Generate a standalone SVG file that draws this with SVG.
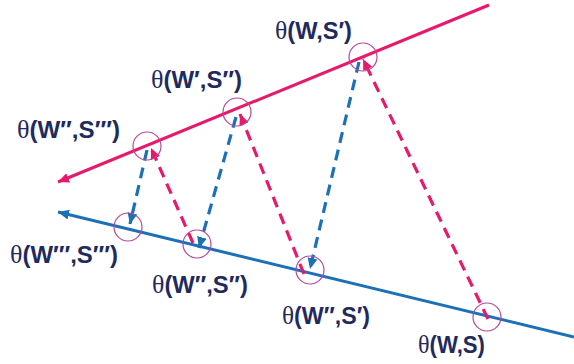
<svg xmlns="http://www.w3.org/2000/svg" width="574" height="364" viewBox="0 0 574 364">
<style>
.pk{stroke:#E8196A;stroke-width:3;fill:none}
.bl{stroke:#1C70B8;stroke-width:3;fill:none}
.dash{stroke-width:3.2;stroke-dasharray:11 7}
.ring{fill:none;stroke:#B5479E;stroke-width:1.2}
.lbl{font-family:"Liberation Sans",Arial,sans-serif;font-weight:bold;font-size:23px;fill:#1F2A5E}
.th{font-family:"Liberation Serif","DejaVu Serif",serif;font-weight:normal;font-size:25px}
</style>
<defs>
<marker id="ap" markerUnits="userSpaceOnUse" markerWidth="12" markerHeight="12" viewBox="0 0 12 12" refX="11" refY="6" orient="auto"><path d="M0,1 L11,6 L0,11 Z" fill="#E8196A"/></marker>
<marker id="ab" markerUnits="userSpaceOnUse" markerWidth="12" markerHeight="12" viewBox="0 0 12 12" refX="11" refY="6" orient="auto"><path d="M0,1 L11,6 L0,11 Z" fill="#1C70B8"/></marker>
</defs>
<g id="axes">
<line id="upper" class="pk" x1="489" y1="5" x2="58" y2="182" marker-end="url(#ap)"/>
<line id="lower" class="bl" x1="574" y1="337" x2="58" y2="212" marker-end="url(#ab)"/>
</g>
<g id="connectors">
<line class="pk dash" x1="488" y1="319" x2="363" y2="59" marker-end="url(#ap)"/>
<line class="bl dash" x1="359" y1="62" x2="310" y2="269" marker-end="url(#ab)"/>
<line class="pk dash" x1="304" y1="274" x2="240" y2="114" marker-end="url(#ap)"/>
<line class="bl dash" x1="236" y1="117" x2="199" y2="248" marker-end="url(#ab)"/>
<line class="pk dash" x1="193" y1="243" x2="151" y2="148" marker-end="url(#ap)"/>
<line class="bl dash" x1="147" y1="150" x2="130" y2="224" marker-end="url(#ab)"/>
</g>
<g id="n1"><circle class="ring" cx="363" cy="57" r="14"/><text class="lbl" x="275" y="39" textLength="77" lengthAdjust="spacingAndGlyphs"><tspan class="th">θ</tspan>(W,S′)</text></g>
<g id="n2"><circle class="ring" cx="237" cy="112" r="14"/><text class="lbl" x="151" y="88" textLength="91" lengthAdjust="spacingAndGlyphs"><tspan class="th">θ</tspan>(W′,S′′)</text></g>
<g id="n3"><circle class="ring" cx="147" cy="146" r="14"/><text class="lbl" x="17" y="138" textLength="103" lengthAdjust="spacingAndGlyphs"><tspan class="th">θ</tspan>(W′′,S′′′)</text></g>
<g id="n4"><circle class="ring" cx="128" cy="227" r="14"/><text class="lbl" x="10" y="263" textLength="108" lengthAdjust="spacingAndGlyphs"><tspan class="th">θ</tspan>(W′′′,S′′′)</text></g>
<g id="n5"><circle class="ring" cx="197" cy="244" r="14"/><text class="lbl" x="152" y="293" textLength="96" lengthAdjust="spacingAndGlyphs"><tspan class="th">θ</tspan>(W′′,S′′)</text></g>
<g id="n6"><circle class="ring" cx="310" cy="270" r="14"/><text class="lbl" x="282" y="324" textLength="88" lengthAdjust="spacingAndGlyphs"><tspan class="th">θ</tspan>(W′′,S′)</text></g>
<g id="n7"><circle class="ring" cx="487" cy="317" r="14"/><text class="lbl" x="418" y="353" textLength="67" lengthAdjust="spacingAndGlyphs"><tspan class="th">θ</tspan>(W,S)</text></g>
</svg>
